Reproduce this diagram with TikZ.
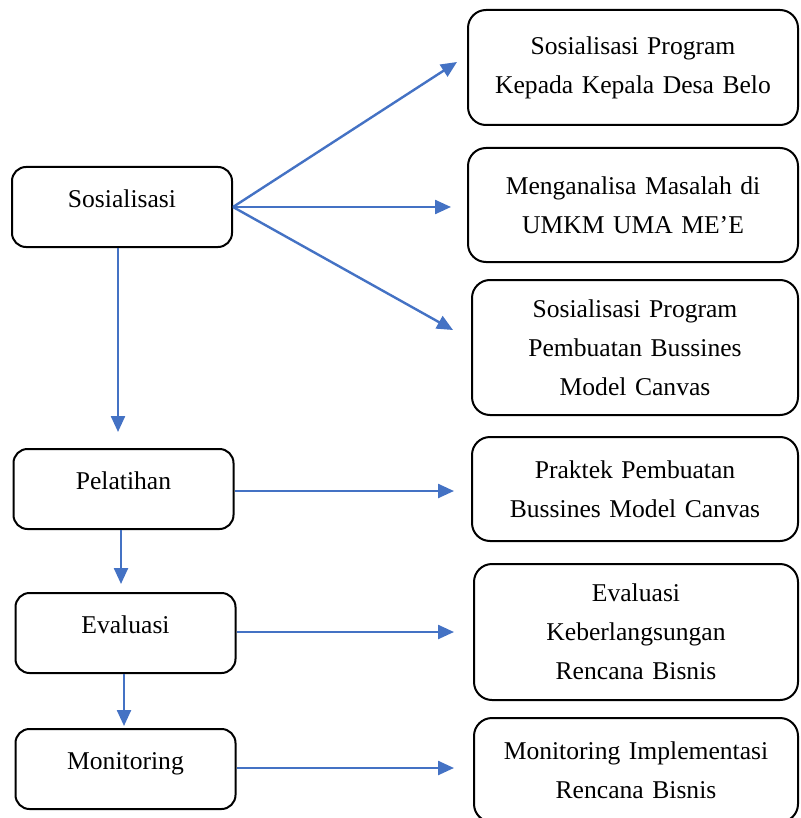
\documentclass[tikz,border=0pt]{standalone}
\usepackage{fontspec}
\setmainfont{Liberation Serif}
\usetikzlibrary{arrows.meta}
\definecolor{flowBlue}{HTML}{4472C4}
\tikzset{
  stage/.style={rectangle,rounded corners=7pt,draw=black,line width=1pt,
    minimum width=110pt,minimum height=40pt,align=center,
    text height=8pt,text depth=8pt,font=\fontsize{12.8}{19.5}\selectfont},
  activity/.style={rectangle,rounded corners=9pt,draw=black,line width=1pt,
    text width=150pt,align=center,font=\fontsize{12.8}{19.5}\selectfont},
  arrow/.style={-{Triangle[length=8pt,width=7pt]},draw=flowBlue,line width=1.2pt}
}
\begin{document}
\begin{tikzpicture}[x=0.5pt,y=-0.5pt]
\useasboundingbox (0,0) rectangle (800,818);
% left column
\node[stage] (sos) at (122,207) {Sosialisasi};
\node[stage] (pel) at (123.5,489) {Pelatihan};
\node[stage] (eval) at (125.5,633) {Evaluasi};
\node[stage] (mon) at (125.5,769) {Monitoring};

% right column
\node[activity, minimum width=165pt, minimum height=57.5pt] (prog1) at (633,67.5)
  {Sosialisasi Program \\ Kepada Kepala Desa Belo};
\node[activity, minimum width=165pt, minimum height=57pt] (prog2) at (633,205)
  {Menganalisa Masalah di \\ UMKM UMA ME'E};
\node[activity, minimum width=163pt, minimum height=67.5pt] (prog3) at (635,347.5)
  {Sosialisasi Program \\ Pembuatan Bussines \\ Model Canvas};
\node[activity, minimum width=163pt, minimum height=52pt] (prog4) at (635,489)
  {Praktek Pembuatan \\ Bussines Model Canvas};
\node[activity, minimum width=162pt, minimum height=68pt] (prog5) at (636,632)
  {Evaluasi \\ Keberlangsungan \\ Rencana Bisnis};
\node[activity, minimum width=162pt, minimum height=52pt] (prog6) at (636,770)
  {Monitoring Implementasi \\ Rencana Bisnis};

\draw[arrow] (sos.east) -- ([xshift=-5pt,yshift=2.75pt]prog1.west);
\draw[arrow] (sos.east) -- ([xshift=-8pt,yshift=-1pt]prog2.west);
\draw[arrow] (sos.east) -- ([xshift=-9pt,yshift=8.75pt]prog3.west);
\draw[arrow,shorten >=8.5pt] ([yshift=-1pt]pel.east) -- ([yshift=-1pt]pel.east -| prog4.west);
\draw[arrow,shorten >=9.5pt] ([yshift=0.5pt]eval.east) -- ([yshift=0.5pt]eval.east -| prog5.west);
\draw[arrow,shorten >=9.5pt] ([yshift=0.5pt]mon.east) -- ([yshift=0.5pt]mon.east -| prog6.west);

\draw[arrow,shorten >=8pt] ([xshift=-2pt]sos.south) -- ([xshift=-2pt]sos.south |- pel.north);
\draw[arrow,shorten >=4pt] ([xshift=-1.25pt]pel.south) -- ([xshift=-1.25pt]pel.south |- eval.north);
\draw[arrow,shorten >=1pt] ([xshift=-0.75pt]eval.south) -- ([xshift=-0.75pt]eval.south |- mon.north);
\end{tikzpicture}
\end{document}
